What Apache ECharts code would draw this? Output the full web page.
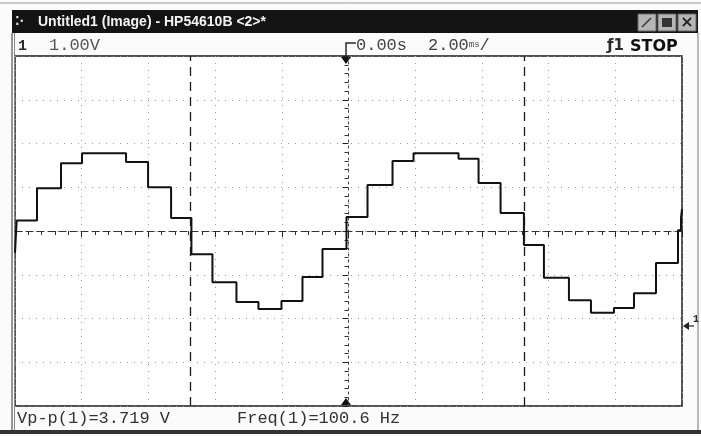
<!DOCTYPE html>
<html>
<head>
<meta charset="utf-8">
<title>HP54610B</title>
<script src="https://cdn.jsdelivr.net/npm/echarts@6/dist/echarts.min.js"></script>
<style>
    html, body { margin: 0; padding: 0; background: #fbfbfb; }
    #scope { width: 701px; height: 436px; }
</style>
</head>
<body>
<div id="scope"></div>
<script>
// 通道1 波形（台阶正弦），时间单位 ms，电压单位 V（相对屏幕中心）
var stepTimes = [-10.0, -9.95, -9.34, -8.62, -7.99, -6.67, -6.01, -5.32, -4.71, -4.08, -3.36, -2.70, -2.01, -1.38, -0.78, -0.06,
    0.57, 1.32, 1.95, 3.30, 3.90, 4.56, 5.26, 5.86, 6.61, 7.27, 7.96, 8.56, 9.22, 9.88, 9.97, 10.0];
var stepLevels = [-0.5, 0.24, 0.98, 1.55, 1.78, 1.58, 1.0, 0.30, -0.53, -1.17, -1.62, -1.78, -1.60, -1.05, -0.41, 0.32,
    1.05, 1.60, 1.78, 1.65, 1.10, 0.41, -0.32, -1.07, -1.58, -1.87, -1.76, -1.42, -0.73, 0.02, 0.30, 0.50];
// 光标位置 (ms)
var cursorTimes = [-4.74, 5.26];
// 屏幕文字
var titleText = 'Untitled1 (Image) - HP54610B <2>*';
var voltsPerDiv = '1.00V';
var delayText = '0.00s';
var timePerDiv = '2.00';
var vppText = 'Vp-p(1)=3.719 V';
var freqText = 'Freq(1)=100.6 Hz';

var traceData = [];
for (var i = 0; i < stepTimes.length; i++) {
    traceData.push([stepTimes[i], stepLevels[i]]);
}

var mono = '"Liberation Mono", "DejaVu Sans Mono", monospace';
var ink = '#2a2a2a';

var myChart = echarts.init(document.getElementById('scope'));
var option = {
    backgroundColor: '#fbfbfb',
    animation: false,
    grid: {
        left: 15,
        right: 19,
        top: 56,
        bottom: 30,
        show: true,
        backgroundColor: '#ffffff',
        borderColor: '#1a1a1a',
        borderWidth: 1.5
    },
    xAxis: {
        type: 'value',
        min: -10,
        max: 10,
        interval: 2,
        axisLine: {
            onZero: true,
            lineStyle: { color: '#333', width: 1, type: [7, 4] }
        },
        axisTick: { show: true, length: 6, lineStyle: { color: '#222' } },
        minorTick: { show: true, splitNumber: 5, length: 4, lineStyle: { color: '#333' } },
        axisLabel: { show: false },
        splitLine: {
            show: true,
            lineStyle: { color: '#999', width: 1, type: [1, 6] }
        }
    },
    yAxis: {
        type: 'value',
        min: -4,
        max: 4,
        interval: 1,
        axisLine: {
            onZero: true,
            lineStyle: { color: '#444', width: 1, type: [2, 4] }
        },
        axisTick: { show: true, length: 6, lineStyle: { color: '#222' } },
        minorTick: { show: true, splitNumber: 5, length: 4, lineStyle: { color: '#333' } },
        axisLabel: { show: false },
        splitLine: {
            show: true,
            lineStyle: { color: '#999', width: 1, type: [1, 6] }
        }
    },
    series: [{
        name: 'CH1',
        type: 'line',
        step: 'end',
        showSymbol: false,
        data: traceData,
        lineStyle: { color: '#111', width: 2 },
        markLine: {
            silent: true,
            symbol: 'none',
            label: { show: false },
            lineStyle: { color: '#1a1a1a', width: 1.3, type: [9, 6] },
            data: cursorTimes.map(function (t) { return { xAxis: t }; })
        }
    }],
    graphic: [
        // 窗口边框
        { type: 'line', shape: { x1: 0, y1: 3, x2: 701, y2: 3 }, style: { stroke: '#999', lineWidth: 1 } },
        { type: 'rect', shape: { x: 12, y: 10, width: 686, height: 23 }, style: { fill: '#141414' } },
        { type: 'line', shape: { x1: 12, y1: 33, x2: 12, y2: 432 }, style: { stroke: '#555', lineWidth: 1.2 } },
        { type: 'line', shape: { x1: 14.5, y1: 33, x2: 14.5, y2: 430 }, style: { stroke: '#888', lineWidth: 1 } },
        { type: 'line', shape: { x1: 698, y1: 33, x2: 698, y2: 432 }, style: { stroke: '#777', lineWidth: 1 } },
        { type: 'rect', shape: { x: 0, y: 430, width: 701, height: 4 }, style: { fill: '#333' } },
        // 标题栏
        { type: 'text', x: 15, y: 22, style: { text: '⁚·', fill: '#ddd', font: 'bold 12px "DejaVu Sans", sans-serif', verticalAlign: 'middle' } },
        { type: 'text', x: 38, y: 22, style: { text: titleText, fill: '#f4f4f4', font: 'bold 14px "Liberation Sans", Arial, sans-serif', verticalAlign: 'middle' } },
        { type: 'rect', shape: { x: 638, y: 14, width: 18, height: 17 }, style: { fill: '#b5b5b5', stroke: '#666' } },
        { type: 'rect', shape: { x: 658, y: 14, width: 18, height: 17 }, style: { fill: '#b5b5b5', stroke: '#666' } },
        { type: 'rect', shape: { x: 678, y: 14, width: 18, height: 17 }, style: { fill: '#b5b5b5', stroke: '#666' } },
        { type: 'line', shape: { x1: 642, y1: 27, x2: 651, y2: 18 }, style: { stroke: '#333', lineWidth: 1.5 } },
        { type: 'rect', shape: { x: 662, y: 18, width: 10, height: 9 }, style: { fill: '#333' } },
        { type: 'text', x: 687, y: 23, style: { text: '×', fill: '#222', font: 'bold 16px "DejaVu Sans", sans-serif', align: 'center', verticalAlign: 'middle' } },
        // 状态行
        { type: 'text', x: 18, y: 46, style: { text: '1', fill: ink, font: 'bold 15px ' + mono, verticalAlign: 'middle' } },
        { type: 'text', x: 49, y: 45, style: { text: voltsPerDiv, fill: '#555', font: '17px ' + mono, verticalAlign: 'middle' } },
        { type: 'polyline', shape: { points: [[346, 56], [346, 43], [356, 43]] }, style: { stroke: ink, lineWidth: 1.5, fill: 'none' } },
        { type: 'text', x: 356, y: 45, style: { text: delayText, fill: '#444', font: '17px ' + mono, verticalAlign: 'middle' } },
        {
            type: 'text', x: 428, y: 45,
            style: {
                text: '{a|' + timePerDiv + '}{b|ms}{a|/}',
                rich: {
                    a: { fill: '#444', font: '17px ' + mono },
                    b: { fill: '#444', font: '9px ' + mono }
                },
                verticalAlign: 'middle'
            }
        },
        { type: 'text', x: 607, y: 46, style: { text: 'ƒ1', fill: ink, font: 'bold 15px "DejaVu Sans", sans-serif', verticalAlign: 'middle' } },
        { type: 'text', x: 630, y: 47, style: { text: 'STOP', fill: '#111', font: 'bold 16px "DejaVu Sans", sans-serif', verticalAlign: 'middle' } },
        // 触发点标记
        { type: 'polygon', shape: { points: [[341, 57], [351, 57], [346, 64]] }, style: { fill: '#111' } },
        { type: 'polygon', shape: { points: [[341, 405], [351, 405], [346, 398]] }, style: { fill: '#111' } },
        // 地电平标记
        { type: 'polygon', shape: { points: [[683, 326], [689, 322], [689, 330]] }, style: { fill: '#222' } },
        { type: 'line', shape: { x1: 689, y1: 326, x2: 694, y2: 326 }, style: { stroke: '#222', lineWidth: 1.2 } },
        { type: 'text', x: 693, y: 319, style: { text: '1', fill: ink, font: 'bold 10px ' + mono, verticalAlign: 'middle' } },
        // 测量值
        { type: 'text', x: 17, y: 418, style: { text: vppText, fill: '#333', font: '17px ' + mono, verticalAlign: 'middle' } },
        { type: 'text', x: 237, y: 418, style: { text: freqText, fill: '#333', font: '17px ' + mono, verticalAlign: 'middle' } }
    ]
};
myChart.setOption(option);
</script>
</body>
</html>
